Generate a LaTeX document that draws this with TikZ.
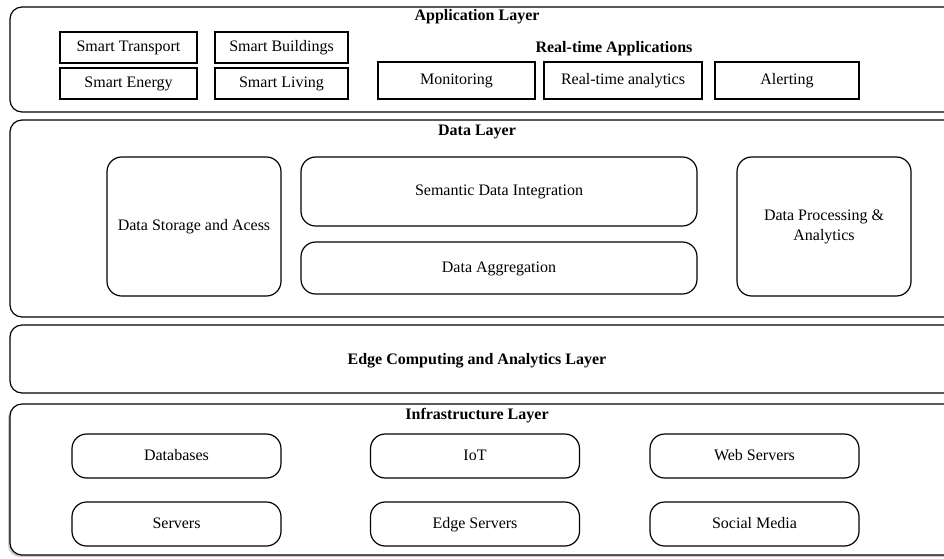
\documentclass[tikz,border=0pt]{standalone}
\usepackage{fontspec}
\setmainfont{Liberation Serif}
\usepackage{tikz}
\usetikzlibrary{shadows}

\tikzset{
  textline/.style = {text height = 8.5pt, text depth = 2.5pt},
  layer/.style = {rectangle, draw = black, line width = 0.9pt,
    rounded corners = 9pt, inner sep = 0pt,
    minimum width = 712.5pt},
  layertitle/.style = {font = \fontsize{12}{14}\selectfont\bfseries,
    inner sep = 1pt, textline},
  appbox/.style = {rectangle, draw = black, line width = 0.9pt,
    inner sep = 0pt, textline, font = \fontsize{12}{14}\selectfont},
  databox/.style = {rectangle, draw = black, line width = 0.9pt,
    rounded corners = 11pt, inner sep = 0pt, align = center,
    font = \fontsize{12}{15}\selectfont},
  infrabox/.style = {rectangle, draw = black, line width = 0.9pt,
    rounded corners = 11pt, inner sep = 0pt, textline,
    minimum width = 156.75pt, minimum height = 33pt,
    font = \fontsize{12}{14}\selectfont},
}

\begin{document}
\begin{tikzpicture}[x=0.75pt, y=-0.75pt]
\clip (0,0) rectangle (944,558);

% application layer
\node[layer, minimum height = 78.75pt] (app) at (485,59.5) {};
\node[layertitle] (apptitle) at (477,16) {Application Layer};

\node[appbox,
    minimum width = 102.75pt,
    minimum height = 23.25pt] (transport) at (128.5,47.5) {Smart Transport};
\node[appbox,
    minimum width = 99.75pt,
    minimum height = 23.25pt] (buildings) at (281.5,47.5) {Smart Buildings};
\node[appbox,
    minimum width = 102.75pt,
    minimum height = 23.25pt] (energy) at (128.5,83.5) {Smart Energy};
\node[appbox,
    minimum width = 99.75pt,
    minimum height = 23.25pt] (living) at (281.5,83.5) {Smart Living};

\node[layertitle] (rttitle) at (614,48) {Real-time Applications};
\node[appbox,
    minimum width = 117.75pt,
    minimum height = 27.75pt] (monitoring) at (456.5,80.5) {Monitoring};
\node[appbox,
    minimum width = 118.5pt,
    minimum height = 27.75pt] (rtanalytics) at (623,80.5) {Real-time analytics};
\node[appbox,
    minimum width = 108pt,
    minimum height = 27.75pt] (alerting) at (787,80.5) {Alerting};

% data layer
\node[layer, minimum height = 147.75pt] (data) at (485,218.5) {};
\node[layertitle] (datatitle) at (477,131) {Data Layer};

\node[databox, textline,
    minimum width = 130.5pt,
    minimum height = 104.25pt] (storage) at (194,226.5) {Data Storage and Acess};
\node[databox, textline,
    minimum width = 297pt,
    minimum height = 51.75pt] (semantic) at (499,191.5) {Semantic Data Integration};
\node[databox, textline,
    minimum width = 297pt,
    minimum height = 39pt] (aggregation) at (499,268) {Data Aggregation};
\node[databox,
    minimum width = 130.5pt,
    minimum height = 104.25pt] (processing) at (824,226.5) {Data Processing \&\\Analytics};

% edge layer
\node[layer, minimum height = 51pt] (edge) at (485,359) {};
\node[layertitle] (edgetitle) at (477,360) {Edge Computing and Analytics Layer};

% infrastructure layer
\node[layer, minimum height = 113.25pt,
    fill = white,
    drop shadow = {shadow xshift = -1.5pt, shadow yshift = -1.5pt,
      fill = black!50, opacity = 0.4}] (infra) at (485,479.5) {};
\node[layertitle] (infratitle) at (477,415) {Infrastructure Layer};

\node[infrabox] (databases) at (176.5,456) {Databases};
\node[infrabox] (iot) at (475,456) {IoT};
\node[infrabox] (webservers) at (754.5,456) {Web Servers};
\node[infrabox] (servers) at (176.5,524) {Servers};
\node[infrabox] (edgeservers) at (475,524) {Edge Servers};
\node[infrabox] (social) at (754.5,524) {Social Media};

\end{tikzpicture}
\end{document}
